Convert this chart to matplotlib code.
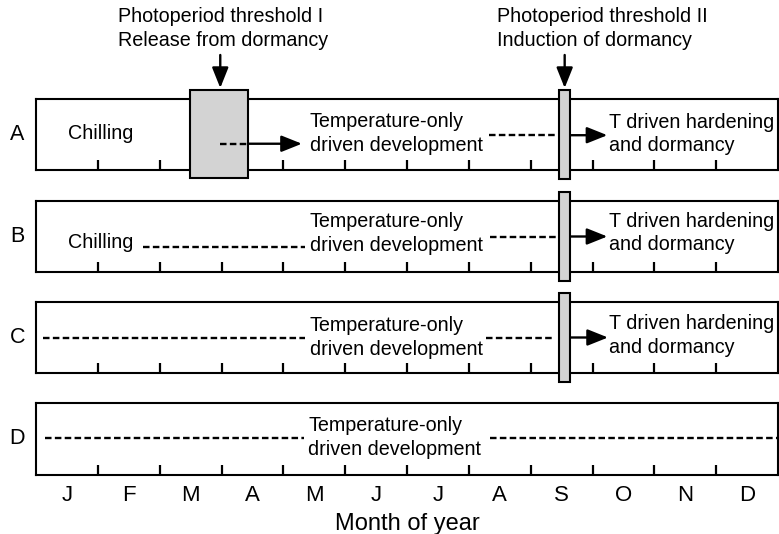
import matplotlib
matplotlib.use("Agg")
import matplotlib.pyplot as plt
from matplotlib.patches import Rectangle

plt.rcParams['font.family'] = ['Liberation Sans', 'DejaVu Sans']
plt.rcParams['lines.scale_dashes'] = False

# Months and scenario rows
months = ['J', 'F', 'M', 'A', 'M', 'J', 'J', 'A', 'S', 'O', 'N', 'D']
rows = ['A', 'B', 'C', 'D']

# Box tops / bottoms of each row, in pixels from the top of the figure
row_top_px = [99, 201, 302, 403]
row_bottom_px = [170, 272, 373, 475]

# Photoperiod thresholds (month positions)
release_span = (2.49, 3.43)      # threshold I, only in row A
induction_span = (8.46, 8.64)    # threshold II, rows A-C
release_rows = ['A']
induction_rows = ['A', 'B', 'C']

# Dashed phases per row: (start, end, height in box)
dashed = {
    'A': [(2.98, 3.43, 0.37), (7.33, 8.43, 0.49)],
    'B': [(1.73, 4.35, 0.35), (7.34, 8.43, 0.50)],
    'C': [(0.11, 4.35, 0.49), (7.28, 8.40, 0.49)],
    'D': [(0.15, 4.33, 0.51), (7.34, 12.0, 0.51)],
}
# Solid arrows per row: (start, end, height in box)
arrows = {
    'A': [(3.43, 4.30, 0.37), (8.64, 9.24, 0.49)],
    'B': [(8.64, 9.24, 0.50)],
    'C': [(8.64, 9.25, 0.50)],
    'D': [],
}
# Text labels per row: (x, y, text)
labels = {
    'A': [(0.52, 0.52, 'Chilling'),
          (4.43, 0.515, 'Temperature-only\ndriven development'),
          (9.27, 0.51, 'T driven hardening\nand dormancy')],
    'B': [(0.52, 0.41, 'Chilling'),
          (4.43, 0.54, 'Temperature-only\ndriven development'),
          (9.27, 0.55, 'T driven hardening\nand dormancy')],
    'C': [(4.43, 0.50, 'Temperature-only\ndriven development'),
          (9.27, 0.53, 'T driven hardening\nand dormancy')],
    'D': [(4.40, 0.52, 'Temperature-only\ndriven development')],
}

W, H = 779, 534
fig = plt.figure(figsize=(W / 100, H / 100), dpi=100)

lw = 1.5
fs = 14.2
ls = 1.3
arrow_style = '-|>,head_length=0.5,head_width=0.2'

axes = []
for i, r in enumerate(rows):
    top, bot = row_top_px[i], row_bottom_px[i]
    ax = fig.add_axes([36 / W, (H - bot) / H, 742 / W, (bot - top) / H])
    ax.set_xlim(0, 12)
    ax.set_ylim(0, 1)
    for s in ax.spines.values():
        s.set_linewidth(lw)
    ax.set_yticks([])
    ax.set_xticks(range(1, 12))
    ax.tick_params(axis='x', which='major', direction='in', length=7.5,
                   width=1.6, labelbottom=False)
    ax.text(-0.3, 0.5, r, fontsize=15.5, ha='center', va='center')

    if r in release_rows:
        ax.add_patch(Rectangle((release_span[0], -0.11),
                               release_span[1] - release_span[0], 1.23,
                               facecolor='#d3d3d3', edgecolor='black',
                               linewidth=lw, zorder=3, clip_on=False))
    if r in induction_rows:
        ax.add_patch(Rectangle((induction_span[0], -0.12),
                               induction_span[1] - induction_span[0], 1.24,
                               facecolor='#d3d3d3', edgecolor='black',
                               linewidth=lw, zorder=3, clip_on=False))

    for x0, x1, y in dashed[r]:
        ax.plot([x0, x1], [y, y], color='black', linewidth=1.7,
                linestyle=(0, (4.7, 2.4)), zorder=4, clip_on=False)
    for x0, x1, y in arrows[r]:
        ax.annotate('', xy=(x1, y), xytext=(x0, y),
                    arrowprops=dict(arrowstyle=arrow_style, color='black',
                                    linewidth=1.7, mutation_scale=25,
                                    shrinkA=0, shrinkB=0), zorder=4)
    for x, y, t in labels[r]:
        ax.text(x, y, t, fontsize=fs, ha='left', va='center',
                linespacing=ls, zorder=5)
    axes.append(ax)

# Month labels and axis title on the last row
axd = axes[-1]
axd.set_xticks([m + 0.5 for m in range(12)], minor=True)
axd.set_xticklabels(months, minor=True)
axd.tick_params(axis='x', which='minor', length=0, pad=7, labelsize=16)
axd.set_xlabel('Month of year', fontsize=17, labelpad=5)

# Photoperiod threshold annotations above row A
axa = axes[0]
axa.text(1.33, 1.99, 'Photoperiod threshold I\nRelease from dormancy',
         fontsize=fs, ha='left', va='center', linespacing=ls, clip_on=False)
axa.text(7.46, 1.99, 'Photoperiod threshold II\nInduction of dormancy',
         fontsize=fs, ha='left', va='center', linespacing=ls, clip_on=False)
for xa in [2.98, (induction_span[0] + induction_span[1]) / 2]:
    axa.annotate('', xy=(xa, 1.155), xytext=(xa, 1.62),
                 arrowprops=dict(arrowstyle=arrow_style, color='black',
                                 linewidth=1.7, mutation_scale=25,
                                 shrinkA=0, shrinkB=0), annotation_clip=False)

fig.savefig('out.png', dpi=100)
